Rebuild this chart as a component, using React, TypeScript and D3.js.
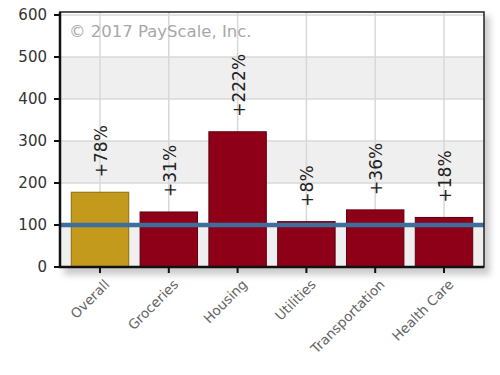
import React from "react";
import * as d3 from "d3";

const categories = ["Overall", "Groceries", "Housing", "Utilities", "Transportation", "Health Care"];
const values = [178, 131, 322, 108, 136, 118];
const labels = ["+78%", "+31%", "+222%", "+8%", "+36%", "+18%"];
const yTicks = [0, 100, 200, 300, 400, 500, 600];
const baseline = 100;

const W = 500, H = 375;
const left = 60, right = 484, top = 12, bottom = 267;

export default function App() {
  const x = d3.scaleBand<string>().domain(categories).range([65.6, 478.4]).paddingInner(0.165).paddingOuter(0.0825);
  const y = d3.scaleLinear().domain([0, 600]).range([bottom, 15]);
  const bands = [];
  for (let i = 0; i < 6; i++) {
    if (i % 2 === 0) bands.push([i * 100, i * 100 + 100]);
  }
  const font = "'DejaVu Sans', Verdana, sans-serif";
  return (
    <svg width={W} height={H} style={{ position: "absolute", left: 0, top: 0, background: "#fff" }}>
      <defs>
        <filter id="sh" x="-5%" y="-5%" width="115%" height="115%">
          <feGaussianBlur stdDeviation="3" />
        </filter>
      </defs>
      <rect x={left + 4} y={top + 4} width={right - left + 2} height={bottom - top + 4} fill="#ccc" filter="url(#sh)" />
      <rect x={left} y={top} width={right - left} height={bottom - top} fill="#fff" />
      {bands.map(([a, b], i) => (
        <rect key={i} x={left} y={y(b)} width={right - left} height={y(a) - y(b)} fill="#efefef" />
      ))}
      {yTicks.map((t) => (
        <line key={t} x1={left} x2={right} y1={y(t)} y2={y(t)} stroke="#d8d8d8" strokeWidth={1.5} />
      ))}
      {categories.map((c) => (
        <line key={c} x1={x(c)! + x.bandwidth() / 2} x2={x(c)! + x.bandwidth() / 2} y1={top} y2={bottom} stroke="#d8d8d8" strokeWidth={1.5} />
      ))}
      <text x={69} y={37} fontFamily={font} fontSize={16.5} fill="#a8a8a8">© 2017 PayScale, Inc.</text>
      {categories.map((c, i) => (
        <rect key={c} x={x(c)!} y={y(values[i])} width={x.bandwidth()} height={y(0) - y(values[i])}
          fill={i === 0 ? "#c49a1c" : "#8e0018"} stroke={i === 0 ? "#8a6c10" : "#5e0010"} strokeWidth={1} />
      ))}
      <line x1={left} x2={right} y1={y(baseline)} y2={y(baseline)} stroke="#3d6e9c" strokeWidth={4.5} />
      {categories.map((c, i) => {
        const cx = x(c)! + x.bandwidth() / 2;
        const cy = y(values[i]) - 15;
        return (
          <text key={c} transform={`translate(${cx + 7},${cy}) rotate(-90)`} fontFamily={font} fontSize={17} fill="#222">
            {labels[i]}
          </text>
        );
      })}
      <rect x={left} y={top} width={right - left} height={bottom - top} fill="none" stroke="#222" strokeWidth={1.5} />
      <line x1={left} x2={left} y1={top} y2={bottom + 1} stroke="#111" strokeWidth={2.5} />
      <line x1={left - 1} x2={right} y1={bottom} y2={bottom} stroke="#111" strokeWidth={2.5} />
      {yTicks.map((t) => (
        <g key={t}>
          <line x1={left - 6} x2={left} y1={y(t)} y2={y(t)} stroke="#111" strokeWidth={2} />
          <text x={left - 13} y={y(t)} dy="0.35em" textAnchor="end" fontFamily={font} fontSize={15} fill="#333">{t}</text>
        </g>
      ))}
      {categories.map((c) => {
        const cx = x(c)! + x.bandwidth() / 2;
        return (
          <g key={c}>
            <line x1={cx} x2={cx} y1={bottom} y2={bottom + 6} stroke="#111" strokeWidth={2} />
            <text transform={`translate(${cx + 7},${bottom + 15}) rotate(-45)`} textAnchor="end" dy="0.35em" fontFamily={font} fontSize={13.5} fill="#666">{c}</text>
          </g>
        );
      })}
    </svg>
  );
}
